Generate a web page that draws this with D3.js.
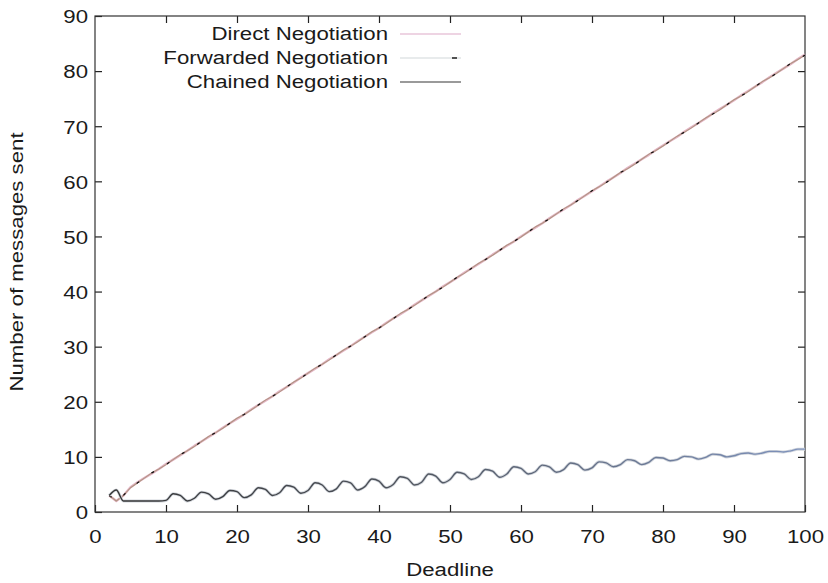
<!DOCTYPE html>
<html>
<head>
<meta charset="utf-8">
<script src="https://cdn.jsdelivr.net/npm/d3@7/dist/d3.min.js"></script>
<style>
  html, body { margin: 0; padding: 0; background: #fff; }
  svg { display: block; }
  text { font-family: "Liberation Sans", Arial, Helvetica, sans-serif; fill: #1a1a1a; }
</style>
</head>
<body>
<svg id="chart" width="828" height="583"></svg>
<script>
// Deadlines run from 2 to 100
const deadlines = d3.range(2, 101);

const directNegotiation = [
  3, 2, 3, 4.5, 5.4, 6.2, 7.0, 7.8, 8.7,
  9.5, 10.3, 11.1, 12.0, 12.8, 13.6, 14.4, 15.3, 16.1, 16.9,
  17.7, 18.6, 19.4, 20.2, 21.0, 21.9, 22.7, 23.5, 24.4, 25.2,
  26.0, 26.8, 27.7, 28.5, 29.3, 30.1, 31.0, 31.8, 32.6, 33.4,
  34.3, 35.1, 35.9, 36.7, 37.6, 38.4, 39.2, 40.0, 40.9, 41.7,
  42.5, 43.4, 44.2, 45.0, 45.8, 46.7, 47.5, 48.3, 49.1, 50.0,
  50.8, 51.6, 52.4, 53.3, 54.1, 54.9, 55.7, 56.6, 57.4, 58.2,
  59.0, 59.9, 60.7, 61.5, 62.4, 63.2, 64.0, 64.8, 65.7, 66.5,
  67.3, 68.1, 69.0, 69.8, 70.6, 71.4, 72.3, 73.1, 73.9, 74.7,
  75.6, 76.4, 77.2, 78.0, 78.9, 79.7, 80.5, 81.3, 82.2, 83.0
];

const forwardedNegotiation = [
  3, 2, 3, 4.4, 5.3, 6.2, 7.1, 7.8, 8.6,
  9.5, 10.4, 11.1, 11.9, 12.8, 13.7, 14.4, 15.2, 16.1, 17.0,
  17.7, 18.5, 19.4, 20.3, 21.0, 21.8, 22.7, 23.6, 24.3, 25.2,
  26.1, 26.8, 27.6, 28.5, 29.4, 30.1, 30.9, 31.8, 32.7, 33.4,
  34.2, 35.1, 36.0, 36.7, 37.5, 38.4, 39.3, 40.0, 40.8, 41.7,
  42.6, 43.3, 44.2, 45.1, 45.8, 46.6, 47.5, 48.4, 49.1, 49.9,
  50.8, 51.7, 52.4, 53.2, 54.1, 55.0, 55.7, 56.5, 57.4, 58.3,
  59.0, 59.8, 60.7, 61.6, 62.3, 63.1, 64.0, 64.9, 65.6, 66.4,
  67.3, 68.2, 68.9, 69.7, 70.6, 71.5, 72.2, 73.0, 73.9, 74.8,
  75.5, 76.3, 77.2, 78.1, 78.8, 79.6, 80.5, 81.4, 82.1, 82.9
];

const chainedNegotiation = [
  3, 4, 2, 2, 2, 2, 2, 2, 2.1,
  3.3, 3.0, 2.0, 2.5, 3.6, 3.3, 2.3, 2.8, 3.9, 3.7,
  2.6, 3.1, 4.4, 4.1, 3.0, 3.5, 4.8, 4.5, 3.4, 3.9,
  5.3, 4.9, 3.7, 4.2, 5.6, 5.3, 4.0, 4.6, 6.0, 5.6,
  4.4, 5.0, 6.4, 6.1, 4.9, 5.4, 6.9, 6.5, 5.3, 5.9,
  7.2, 6.9, 5.9, 6.4, 7.7, 7.4, 6.3, 6.9, 8.2, 7.9,
  6.9, 7.3, 8.5, 8.2, 7.2, 7.7, 8.9, 8.6, 7.6, 8.0,
  9.1, 8.9, 8.2, 8.6, 9.5, 9.3, 8.6, 9.0, 9.9, 9.8,
  9.3, 9.5, 10.1, 10.0, 9.6, 9.9, 10.5, 10.4, 10.0, 10.2,
  10.6, 10.7, 10.5, 10.7, 11.0, 11.0, 10.9, 11.1, 11.4, 11.4
];

const xTicks = [0, 10, 20, 30, 40, 50, 60, 70, 80, 90, 100];
const yTicks = [0, 10, 20, 30, 40, 50, 60, 70, 80, 90];
const seriesNames = ["Direct Negotiation", "Forwarded Negotiation", "Chained Negotiation"];

const W = 828, H = 583;
const margin = { top: 16, right: 23, bottom: 71, left: 95 };
const innerW = W - margin.left - margin.right;
const innerH = H - margin.top - margin.bottom;
const SX = 1.17;      // horizontal stretch of the lettering
const FS = 19;

const svg = d3.select("#chart");
const defs = svg.append("defs");
const g = svg.append("g").attr("transform", `translate(${margin.left},${margin.top})`);

const x = d3.scaleLinear().domain([0, 100]).range([0, innerW]);
const y = d3.scaleLinear().domain([0, 90]).range([innerH, 0]);

// chained curve shifts from near-black to a steel blue across the plot
const grad = defs.append("linearGradient")
  .attr("id", "chainGrad").attr("gradientUnits", "userSpaceOnUse")
  .attr("x1", 0).attr("x2", innerW).attr("y1", 0).attr("y2", 0);
grad.append("stop").attr("offset", "0%").attr("stop-color", "#333");
grad.append("stop").attr("offset", "45%").attr("stop-color", "#50555e");
grad.append("stop").attr("offset", "100%").attr("stop-color", "#7f93bd");

// tick marks point inward on all four sides
const tickLen = 7;
const axisStyle = sel => {
  sel.select(".domain").remove();
  sel.selectAll(".tick line").attr("stroke", "#222").attr("stroke-width", 1.2);
};

g.append("g").attr("transform", `translate(0,${innerH})`)
  .call(d3.axisBottom(x).tickValues(xTicks).tickSize(-tickLen).tickFormat(d3.format("d")))
  .call(axisStyle)
  .call(sel => sel.selectAll(".tick text")
    .attr("y", null).attr("dy", null)
    .attr("transform", `translate(0,31) scale(${SX},1)`)
    .style("font-size", FS + "px").style("font-family", null).attr("fill", "#1a1a1a"));

g.append("g").attr("transform", `translate(0,0)`)
  .call(d3.axisTop(x).tickValues(xTicks.slice(1, -1)).tickSize(-tickLen).tickFormat(""))
  .call(axisStyle);

g.append("g")
  .call(d3.axisLeft(y).tickValues(yTicks).tickSize(-tickLen).tickFormat(d3.format("d")))
  .call(axisStyle)
  .call(sel => sel.selectAll(".tick text")
    .attr("x", null).attr("dy", "0.36em")
    .attr("transform", `translate(-7,0) scale(${SX},1)`)
    .style("font-size", FS + "px").style("font-family", null).attr("fill", "#1a1a1a"));

g.append("g").attr("transform", `translate(${innerW},0)`)
  .call(d3.axisRight(y).tickValues(yTicks.slice(1, -1)).tickSize(-tickLen).tickFormat(""))
  .call(axisStyle);

// plot border
g.append("rect")
  .attr("x", 0).attr("y", 0).attr("width", innerW).attr("height", innerH)
  .attr("fill", "none").attr("stroke", "#333").attr("stroke-width", 1.2);

// series lines
const ptsOf = vals => deadlines.map((d, i) => [d, vals[i]]);
const lineLin = d3.line().x(p => x(p[0])).y(p => y(p[1]));
const lineSmooth = d3.line().x(p => x(p[0])).y(p => y(p[1])).curve(d3.curveMonotoneX);

g.append("path").datum(ptsOf(directNegotiation))
  .attr("d", lineLin).attr("fill", "none")
  .attr("stroke", "#e4b6c6").attr("stroke-width", 2.4).attr("stroke-linejoin", "round");

g.append("path").datum(ptsOf(forwardedNegotiation))
  .attr("d", lineLin).attr("fill", "none")
  .attr("stroke", "#b09482").attr("stroke-width", 1.1).attr("stroke-linejoin", "round");

g.append("path").datum(ptsOf(forwardedNegotiation))
  .attr("d", lineLin).attr("fill", "none")
  .attr("stroke", "#111").attr("stroke-width", 1.2).attr("stroke-dasharray", "3,15");

g.append("path").datum(ptsOf(chainedNegotiation))
  .attr("d", lineSmooth).attr("fill", "none")
  .attr("stroke", "#d2d6dc").attr("stroke-width", 3).attr("stroke-linejoin", "round");

g.append("path").datum(ptsOf(chainedNegotiation))
  .attr("d", lineSmooth).attr("fill", "none")
  .attr("stroke", "url(#chainGrad)").attr("stroke-width", 1.4).attr("stroke-linejoin", "round");

// legend, right-aligned labels with sample lines
const legend = svg.append("g");
const legendRows = [
  { name: seriesNames[0], y: 40, stroke: "#e8c6da", width: 1.6 },
  { name: seriesNames[1], y: 64, stroke: "#e0e4e6", width: 1.6 },
  { name: seriesNames[2], y: 88, stroke: "#9a9a9a", width: 2.2 }
];
legendRows.forEach((r, i) => {
  legend.append("text")
    .attr("text-anchor", "end")
    .attr("transform", `translate(388,${r.y}) scale(${SX},1)`)
    .style("font-size", FS + "px")
    .text(r.name);
  legend.append("line")
    .attr("x1", 400).attr("x2", 461)
    .attr("y1", r.y - 6).attr("y2", r.y - 6)
    .attr("stroke", r.stroke).attr("stroke-width", r.width);
  if (i === 1) {
    legend.append("line")
      .attr("x1", 452).attr("x2", 457)
      .attr("y1", r.y - 6).attr("y2", r.y - 6)
      .attr("stroke", "#111").attr("stroke-width", 1.4);
  }
});

// axis titles
svg.append("text")
  .attr("text-anchor", "middle")
  .attr("transform", `translate(450,576) scale(${SX},1)`)
  .style("font-size", FS + "px")
  .text("Deadline");

svg.append("text")
  .attr("text-anchor", "middle")
  .attr("transform", `translate(23,262) rotate(-90) scale(${SX},1)`)
  .style("font-size", FS + "px")
  .text("Number of messages sent");
</script>
</body>
</html>
